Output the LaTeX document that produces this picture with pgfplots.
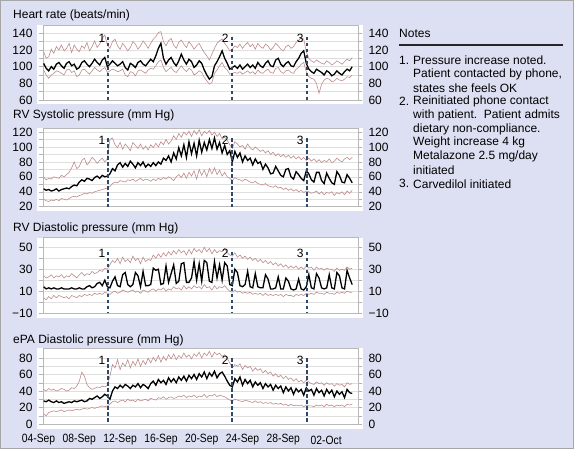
\documentclass[border=0pt]{standalone}
\usepackage{pgfplots}
\pgfplotsset{compat=1.18}
\usepackage{pgfplotstable}
\usepackage{graphicx}
\usepackage{fontspec}
\setmainfont{Liberation Sans}

\definecolor{bgc}{RGB}{221,224,242}
\definecolor{band}{RGB}{190,140,140}
\definecolor{evt}{RGB}{45,75,105}

\pgfplotstableread{
x up m lo
4.50 118 104 96
4.75 110 98 90
5.00 112 95 86
5.25 121 100 90
5.50 116 97 92
5.75 124 103 95
6.00 120 105 94
6.25 126 101 92
6.50 119 98 90
6.75 122 104 96
7.00 128 106 97
7.25 117 101 93
7.50 126 103 95
7.75 121 97 88
8.00 118 99 90
8.25 125 105 96
8.50 122 107 97
8.75 129 103 94
9.00 119 100 91
9.25 124 104 95
9.50 131 109 99
9.75 123 105 96
10.00 127 102 94
10.25 134 108 97
10.50 138 111 99
10.75 126 100 93
11.00 122 103 95
11.25 130 107 97
11.50 133 104 96
11.75 125 101 94
12.00 121 103 95
12.25 128 106 97
12.50 124 99 90
12.75 119 96 88
13.00 123 104 94
13.25 130 102 93
13.50 127 99 89
13.75 121 105 95
14.00 125 107 96
14.25 131 103 94
14.50 127 101 92
14.75 122 105 96
15.00 128 109 98
15.25 133 106 97
15.50 136 113 101
15.75 141 122 106
16.00 142 128 108
16.25 130 110 99
16.50 125 103 94
16.75 131 108 97
17.00 134 111 99
17.25 126 105 95
17.50 122 101 93
17.75 129 107 97
18.00 132 115 101
18.25 127 108 97
18.50 123 103 94
18.75 130 109 98
19.00 126 106 96
19.25 121 99 90
19.50 125 102 92
19.75 128 107 95
20.00 122 104 93
20.25 117 96 87
20.50 113 90 83
20.75 108 85 79
21.00 115 88 81
21.25 122 101 92
21.50 128 106 96
21.75 131 112 101
22.00 133 119 105
22.25 128 110 99
22.50 124 104 96
22.75 119 97 91
23.00 121 99 92
23.25 125 101 93
23.50 123 98 92
23.75 127 102 94
24.00 122 97 91
24.25 126 100 93
24.50 129 103 95
24.75 124 99 92
25.00 127 102 94
25.25 121 98 91
25.50 128 105 96
25.75 124 101 93
26.00 122 99 92
26.25 127 104 95
26.50 125 107 97
26.75 120 101 93
27.00 123 100 92
27.25 128 108 98
27.50 125 110 99
27.75 121 103 94
28.00 119 100 92
28.25 124 104 95
28.50 126 106 96
28.75 122 101 93
29.00 124 100 92
29.25 129 106 97
29.50 131 110 99
29.75 135 116 103
30.00 133 119 105
30.25 118 104 94
30.50 110 97 88
30.75 107 94 86
31.00 105 92 85
31.25 108 97 80
31.50 106 95 68
31.75 104 93 79
32.00 103 90 84
32.25 107 95 86
32.50 105 93 85
32.75 102 89 82
33.00 104 91 83
33.25 107 95 86
33.50 105 92 84
33.75 103 90 83
34.00 106 94 85
34.25 109 97 88
34.50 107 95 87
34.75 111 100 90
}\hr

\pgfplotstableread{
x up m lo
4.50 60 44 30
4.75 56 42 28
5.00 58 43 27
5.25 57 41 29
5.50 60 42 28
5.75 59 44 30
6.00 58 41 28
6.25 62 43 31
6.50 60 44 30
6.75 63 45 29
7.00 66 44 31
7.25 72 47 33
7.50 80 49 34
7.75 71 48 33
8.00 74 53 35
8.25 82 56 36
8.50 85 54 38
8.75 76 58 37
9.00 80 57 39
9.25 86 55 38
9.50 83 59 40
9.75 78 61 41
10.00 82 58 42
10.25 85 62 43
10.50 80 60 44
10.75 84 61 45
11.00 110 64 47
11.25 112 71 51
11.50 103 68 53
11.75 99 76 52
12.00 106 79 55
12.25 97 73 54
12.50 104 78 53
12.75 100 74 56
13.00 95 81 55
13.25 106 77 57
13.50 102 72 54
13.75 98 79 56
14.00 104 75 58
14.25 97 80 55
14.50 101 73 57
14.75 96 77 56
15.00 103 74 54
15.25 99 79 57
15.50 105 75 55
15.75 100 80 58
16.00 107 77 56
16.25 103 85 59
16.50 110 82 57
16.75 104 88 60
17.00 108 80 58
17.25 115 92 55
17.50 110 84 60
17.75 118 99 63
18.00 113 88 59
18.25 120 103 65
18.50 116 86 58
18.75 121 107 66
19.00 114 91 61
19.25 122 105 68
19.50 117 88 57
19.75 123 109 70
20.00 115 93 62
20.25 121 106 69
20.50 118 96 60
20.75 122 110 71
21.00 116 98 64
21.25 120 112 72
21.50 114 97 63
21.75 118 106 69
22.00 111 92 61
22.25 113 102 66
22.50 109 90 60
22.75 103 95 58
23.00 98 80 55
23.25 107 94 59
23.50 104 86 57
23.75 100 92 56
24.00 102 80 54
24.25 97 88 57
24.50 104 82 55
24.75 99 85 53
25.00 96 76 52
25.25 100 84 54
25.50 97 78 51
25.75 94 80 50
26.00 96 70 49
26.25 92 77 51
26.50 95 72 48
26.75 90 64 47
27.00 93 65 46
27.25 88 74 48
27.50 91 68 45
27.75 87 62 46
28.00 90 60 43
28.25 86 70 45
28.50 89 71 42
28.75 85 60 44
29.00 88 57 41
29.25 84 67 43
29.50 87 63 40
29.75 83 58 42
30.00 86 55 39
30.25 82 68 41
30.50 85 64 40
30.75 81 56 38
31.00 84 53 39
31.25 80 66 41
31.50 83 66 37
31.75 79 55 40
32.00 82 51 36
32.25 80 65 39
32.50 84 58 38
32.75 79 52 40
33.00 81 50 35
33.25 85 67 39
33.50 82 62 37
33.75 80 53 40
34.00 84 52 36
34.25 86 63 41
34.50 83 58 38
34.75 86 52 42
}\rvs

\pgfplotstableread{
x up m lo
4.50 24 14 4
4.75 22 12 2
5.00 23 13 5
5.25 25 12 3
5.50 22 13 6
5.75 24 12 4
6.00 23 12 6
6.25 25 13 5
6.50 22 12 4
6.75 24 12 5
7.00 23 12 3
7.25 26 13 6
7.50 24 12 5
7.75 22 12 4
8.00 25 13 6
8.25 27 12 5
8.50 24 12 7
8.75 26 14 6
9.00 25 15 7
9.25 28 13 6
9.50 26 14 8
9.75 27 17 7
10.00 29 18 8
10.25 28 15 7
10.50 31 20 9
10.75 30 14 8
11.00 34 13 7
11.25 38 19 9
11.50 36 23 10
11.75 40 15 8
12.00 35 14 9
12.25 41 25 11
12.50 37 27 10
12.75 39 16 9
13.00 36 14 10
13.25 42 16 11
13.50 38 27 9
13.75 40 24 10
14.00 35 14 8
14.25 41 28 11
14.50 37 15 10
14.75 39 15 9
15.00 38 16 11
15.25 43 31 12
15.50 40 29 10
15.75 44 30 12
16.00 41 16 11
16.25 45 17 13
16.50 42 33 10
16.75 46 18 12
17.00 43 26 11
17.25 47 34 14
17.50 44 17 12
17.75 48 19 13
18.00 45 35 11
18.25 47 36 15
18.50 43 18 12
18.75 48 18 14
19.00 44 22 12
19.25 49 37 15
19.50 46 20 13
19.75 48 35 14
20.00 45 19 12
20.25 50 38 16
20.50 46 36 13
20.75 49 19 14
21.00 44 18 11
21.25 48 37 15
21.50 45 22 12
21.75 47 34 14
22.00 46 20 13
22.25 49 36 15
22.50 45 33 12
22.75 43 16 10
23.00 42 15 9
23.25 45 30 11
23.50 41 27 9
23.75 43 15 10
24.00 40 14 8
24.25 42 16 9
24.50 39 28 8
24.75 41 14 9
25.00 38 13 7
25.25 40 26 8
25.50 37 14 7
25.75 39 13 8
26.00 36 13 6
26.25 38 25 8
26.50 35 21 6
26.75 37 12 7
27.00 34 12 6
27.25 36 13 7
27.50 33 23 6
27.75 35 12 7
28.00 32 12 5
28.25 34 22 7
28.50 31 19 6
28.75 33 12 6
29.00 31 11 5
29.25 33 12 7
29.50 30 21 6
29.75 32 12 7
30.00 30 11 6
30.25 33 14 8
30.50 31 25 7
30.75 32 13 8
31.00 29 12 7
31.25 32 26 9
31.50 30 22 8
31.75 31 13 8
32.00 29 12 7
32.25 31 13 9
32.50 30 25 8
32.75 30 13 8
33.00 28 12 7
33.25 31 27 9
33.50 29 24 8
33.75 30 13 9
34.00 29 12 8
34.25 32 29 10
34.50 30 22 9
34.75 31 16 9
}\rvd

\pgfplotstableread{
x up m lo
4.50 42 28 12
4.75 40 27 10
5.00 43 29 14
5.25 41 27 15
5.50 42 26 16
5.75 40 28 15
6.00 41 26 16
6.25 43 27 17
6.50 42 25 15
6.75 40 26 16
7.00 41 27 17
7.25 44 26 16
7.50 43 28 17
7.75 46 27 18
8.00 52 28 17
8.25 63 29 18
8.50 58 27 19
8.75 48 28 18
9.00 44 31 19
9.25 42 30 20
9.50 43 32 19
9.75 45 34 20
10.00 44 31 21
10.25 46 33 22
10.50 45 36 21
10.75 47 34 22
11.00 58 30 24
11.25 72 40 27
11.50 68 45 28
11.75 78 43 26
12.00 66 47 28
12.25 74 44 29
12.50 70 48 27
12.75 78 46 30
13.00 68 43 28
13.25 76 47 29
13.50 71 45 27
13.75 79 49 30
14.00 70 44 28
14.25 77 48 29
14.50 72 46 30
14.75 80 43 28
15.00 74 49 31
15.25 81 52 30
15.50 76 47 29
15.75 83 54 32
16.00 75 50 31
16.25 82 53 33
16.50 77 48 30
16.75 84 56 32
17.00 79 51 33
17.25 85 55 31
17.50 78 50 32
17.75 83 57 34
18.00 80 53 33
18.25 86 58 35
18.50 81 52 32
18.75 84 59 34
19.00 79 55 33
19.25 85 60 35
19.50 82 54 32
19.75 87 61 34
20.00 80 57 33
20.25 86 63 36
20.50 83 55 32
20.75 88 62 35
21.00 81 58 34
21.25 87 64 36
21.50 84 56 33
21.75 86 61 35
22.00 82 63 34
22.25 84 58 33
22.50 80 52 31
22.75 74 47 29
23.00 68 45 28
23.25 72 55 30
23.50 70 51 29
23.75 73 57 28
24.00 66 47 27
24.25 71 54 29
24.50 68 49 28
24.75 70 53 27
25.00 64 45 26
25.25 68 51 28
25.50 65 47 26
25.75 67 50 27
26.00 62 43 25
26.25 65 49 26
26.50 61 45 25
26.75 63 48 26
27.00 58 41 24
27.25 61 47 25
27.50 57 43 24
27.75 59 46 25
28.00 55 38 23
28.25 58 45 24
28.50 54 40 22
28.75 56 44 24
29.00 52 36 22
29.25 55 43 23
29.50 51 39 22
29.75 53 42 23
30.00 50 35 21
30.25 53 44 23
30.50 51 40 22
30.75 49 42 22
31.00 48 35 21
31.25 51 43 23
31.50 49 38 22
31.75 50 41 23
32.00 47 34 21
32.25 50 42 24
32.50 48 37 22
32.75 49 41 23
33.00 46 33 21
33.25 49 40 23
33.50 47 36 22
33.75 48 39 23
34.00 45 32 21
34.25 50 42 24
34.50 48 38 23
34.75 49 37 24
}\epa

\newcommand{\fs}{\fontsize{12}{14}\selectfont}
\newcommand{\dl}[1]{\scalebox{0.86}[1]{#1}}

\tikzset{
  evlab/.style={anchor=east, inner sep=0pt, xshift=-3pt, yshift=-2pt, font=\fs},
  datelab/.style={font=\fs, yshift=-16pt},
}

\pgfplotsset{
  panel/.style={
    scale only axis, width=315pt, anchor=north west,
    xmin=4.44, xmax=35.32, clip=false,
    axis line style={gray!55, line width=0.5pt},
    tick align=outside,
    xtick=\empty,
    minor xtick={4.44,5.244,...,35.32},
    xtick pos=left,
    minor y tick num=1,
    ymajorgrids, yminorgrids,
    major grid style={gray!25, line width=0.5pt},
    minor grid style={gray!25, line width=0.5pt},
    major tick length=4pt, minor tick length=4pt,
    tick style={gray!60, line width=0.5pt},
    /pgf/number format/assume math mode=true,
    ticklabel style={font=\fs},
    yticklabel style={xshift=-3pt},
  },
  rlab/.style={
    scale only axis, width=315pt, anchor=north west,
    xmin=4.44, xmax=35.32,
    hide x axis, axis y line*=right,
    y axis line style={draw=none},
    major tick length=0pt, minor tick length=0pt,
    ytick style={draw=none},
    /pgf/number format/assume math mode=true,
    ticklabel style={font=\fs},
    yticklabel style={anchor=west, xshift=7pt},
  },
  bandline/.style={band, line width=0.6pt},
  meanline/.style={black, line width=1.3pt},
  evline/.style={evt, line width=1.8pt, dash pattern=on 3.5pt off 2.5pt},
}

\begin{document}
\begin{tikzpicture}[x=1pt, y=1pt, font=\fs]
\useasboundingbox (0,0) rectangle (574,-455);
\fill[white] (0,0) rectangle (574,-455);
\fill[bgc] (0,0) rectangle (574,-448);
\draw[gray!70, line width=0.8pt] (0.4,-0.4) rectangle (573.6,-448);
% white plot backings
\fill[white] (37,-25) rectangle (363,-104);
\fill[white] (37,-128.3) rectangle (363,-211);
\fill[white] (37,-237.7) rectangle (363,-318);
\fill[white] (37,-348.3) rectangle (363,-429);

% titles
\node[anchor=west, inner sep=0pt] at (13,-15) {Heart rate (beats/min)};
\node[anchor=west, inner sep=0pt] at (13,-115) {RV Systolic pressure (mm Hg)};
\node[anchor=west, inner sep=0pt] at (13,-228) {RV Diastolic pressure (mm Hg)};
\node[anchor=west, inner sep=0pt] at (13,-340) {ePA Diastolic pressure (mm Hg)};

% Panel 1
\begin{axis}[panel, at={(43pt,-25pt)}, height=75pt, ymin=60, ymax=150, ytick={60,80,...,140}]
\addplot[bandline] table[x=x,y=up]{\hr};
\addplot[bandline] table[x=x,y=lo]{\hr};
\addplot[meanline] table[x=x,y=m]{\hr};
\addplot[evline] coordinates {(10.85,136) (10.85,60)};
\addplot[evline] coordinates {(22.94,136) (22.94,60)};
\addplot[evline] coordinates {(30.3,136) (30.3,60)};
\node[evlab] at (axis cs:10.85,136) {1};
\node[evlab] at (axis cs:22.94,136) {2};
\node[evlab] at (axis cs:30.3,136) {3};
\end{axis}
\begin{axis}[rlab, at={(43pt,-25pt)}, height=75pt, ymin=60, ymax=150, ytick={60,80,...,140}]
\end{axis}

% Panel 2
\begin{axis}[panel, at={(43pt,-128.3pt)}, height=78.4pt, ymin=20, ymax=125, ytick={20,40,...,120}]
\addplot[bandline] table[x=x,y=up]{\rvs};
\addplot[bandline] table[x=x,y=lo]{\rvs};
\addplot[meanline] table[x=x,y=m]{\rvs};
\addplot[evline] coordinates {(10.85,112) (10.85,20)};
\addplot[evline] coordinates {(22.94,112) (22.94,20)};
\addplot[evline] coordinates {(30.3,112) (30.3,20)};
\node[evlab] at (axis cs:10.85,112) {1};
\node[evlab] at (axis cs:22.94,112) {2};
\node[evlab] at (axis cs:30.3,112) {3};
\end{axis}
\begin{axis}[rlab, at={(43pt,-128.3pt)}, height=78.4pt, ymin=20, ymax=125, ytick={20,40,...,120}]
\end{axis}

% Panel 3
\begin{axis}[panel, at={(43pt,-237.7pt)}, height=75.3pt, ymin=-10, ymax=58.8, ytick={-10,10,30,50}, yticklabels={−10,10,30,50}]
\addplot[bandline] table[x=x,y=up]{\rvd};
\addplot[bandline] table[x=x,y=lo]{\rvd};
\addplot[meanline] table[x=x,y=m]{\rvd};
\addplot[evline] coordinates {(10.85,46) (10.85,-10)};
\addplot[evline] coordinates {(22.94,46) (22.94,-10)};
\addplot[evline] coordinates {(30.3,46) (30.3,-10)};
\node[evlab] at (axis cs:10.85,46) {1};
\node[evlab] at (axis cs:22.94,46) {2};
\node[evlab] at (axis cs:30.3,46) {3};
\end{axis}
\begin{axis}[rlab, at={(43pt,-237.7pt)}, height=75.3pt, ymin=-10, ymax=58.8, ytick={-10,10,30,50}, yticklabels={−10,10,30,50}]
\end{axis}

% Panel 4
\begin{axis}[panel, at={(43pt,-348.3pt)}, height=75.7pt, ymin=0, ymax=91.8, ytick={0,20,...,80}]
\addplot[bandline] table[x=x,y=up]{\epa};
\addplot[bandline] table[x=x,y=lo]{\epa};
\addplot[meanline] table[x=x,y=m]{\epa};
\addplot[evline] coordinates {(10.85,80) (10.85,0)};
\addplot[evline] coordinates {(22.94,80) (22.94,0)};
\addplot[evline] coordinates {(30.3,80) (30.3,0)};
\node[evlab] at (axis cs:10.85,80) {1};
\node[evlab] at (axis cs:22.94,80) {2};
\node[evlab] at (axis cs:30.3,80) {3};
\node[datelab] at (axis cs:4,0) {\dl{04-Sep}};
\node[datelab] at (axis cs:8,0) {\dl{08-Sep}};
\node[datelab] at (axis cs:12,0) {\dl{12-Sep}};
\node[datelab] at (axis cs:16,0) {\dl{16-Sep}};
\node[datelab] at (axis cs:20,0) {\dl{20-Sep}};
\node[datelab] at (axis cs:24,0) {\dl{24-Sep}};
\node[datelab] at (axis cs:28,0) {\dl{28-Sep}};
\node[datelab] at (axis cs:32.2,0) {\dl{02-Oct}};
\end{axis}
\begin{axis}[rlab, at={(43pt,-348.3pt)}, height=75.7pt, ymin=0, ymax=91.8, ytick={0,20,...,80}]
\end{axis}

% Notes
\node[anchor=west, inner sep=0pt] at (399,-33) {Notes};
\draw[black!85, line width=1.5pt] (399,-45) -- (563,-45);
\node[anchor=west, inner sep=0pt] at (399,-60.5) {1.};
\node[anchor=west, inner sep=0pt] at (399,-101.6) {2.};
\node[anchor=west, inner sep=0pt] at (399,-183.8) {3.};
\node[anchor=west, inner sep=0pt] at (413,-60.5) {Pressure increase noted.};
\node[anchor=west, inner sep=0pt] at (413,-74.2) {Patient contacted by phone,};
\node[anchor=west, inner sep=0pt] at (413,-87.9) {states she feels OK};
\node[anchor=west, inner sep=0pt] at (413,-101.6) {Reinitiated phone contact};
\node[anchor=west, inner sep=0pt] at (413,-115.3) {with patient.\ \ Patient admits};
\node[anchor=west, inner sep=0pt] at (413,-129.0) {dietary non-compliance.};
\node[anchor=west, inner sep=0pt] at (413,-142.7) {Weight increase 4 kg};
\node[anchor=west, inner sep=0pt] at (413,-156.4) {Metalazone 2.5 mg/day};
\node[anchor=west, inner sep=0pt] at (413,-170.1) {initiated};
\node[anchor=west, inner sep=0pt] at (413,-183.8) {Carvedilol initiated};
\end{tikzpicture}
\end{document}
